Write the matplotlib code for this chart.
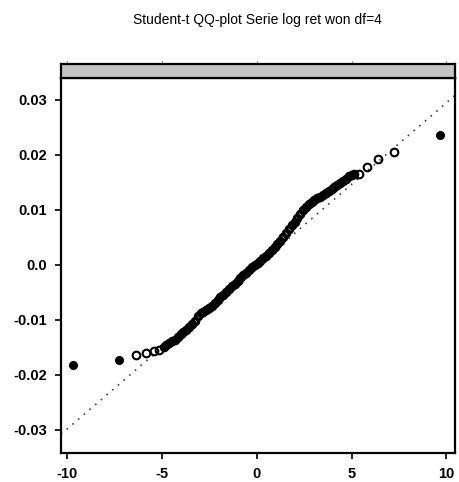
import matplotlib
matplotlib.use("Agg")
import matplotlib.pyplot as plt

plt.rcParams['font.family'] = ['Liberation Sans', 'DejaVu Sans']

title = "Student-t QQ-plot Serie log ret won df=4"

# theoretical t(4) quantiles (x) vs sample quantiles (y)
x_dense = [-4.90, -4.75, -4.60, -4.45, -4.30, -4.15, -4.00, -3.85, -3.70, -3.55,
           -3.40, -3.25, -3.10, -2.95, -2.80, -2.65, -2.50, -2.35, -2.20, -2.05,
           -1.90, -1.75, -1.60, -1.45, -1.30, -1.15, -1.00, -0.85, -0.70, -0.55,
           -0.40, -0.25, -0.10, 0.05, 0.20, 0.35, 0.50, 0.65, 0.80, 0.95,
           1.10, 1.25, 1.40, 1.55, 1.70, 1.85, 2.00, 2.15, 2.30, 2.45,
           2.60, 2.75, 2.90, 3.05, 3.20, 3.35, 3.50, 3.65, 3.80, 3.95,
           4.10, 4.25, 4.40, 4.55, 4.70, 4.85, 5.00, 5.15]
y_dense = [-0.0149, -0.0146, -0.0142, -0.0139, -0.0136, -0.0131, -0.0126, -0.0122, -0.0118, -0.0113,
           -0.0108, -0.0102, -0.0093, -0.0088, -0.0085, -0.0082, -0.0078, -0.0074, -0.0069, -0.0064,
           -0.0059, -0.0054, -0.0049, -0.0044, -0.0039, -0.0034, -0.0029, -0.0024, -0.0019, -0.0014,
           -0.0009, -0.0004, 0.0000, 0.0004, 0.0008, 0.0012, 0.0017, 0.0022, 0.0027, 0.0032,
           0.0038, 0.0044, 0.0051, 0.0058, 0.0065, 0.0072, 0.0079, 0.0086, 0.0093, 0.0100,
           0.0106, 0.0111, 0.0115, 0.0118, 0.0121, 0.0124, 0.0127, 0.0131, 0.0135, 0.0138,
           0.0141, 0.0145, 0.0149, 0.0153, 0.0157, 0.0161, 0.0163, 0.0165]

x_open = [-6.37, -5.84, -5.42, -5.15, 5.42, 5.80, 6.37, 7.26]
y_open = [-0.0164, -0.0160, -0.0157, -0.0155, 0.0166, 0.0178, 0.0193, 0.0205]

x_filled = [-9.68, -7.26, 9.68]
y_filled = [-0.0182, -0.0172, 0.0236]

# reference line (qqline)
line_intercept = -0.0002
line_slope = 0.00297

xticks = [-10, -5, 0, 5, 10]
xticklabels = ["-10", "-5", "0", "5", "10"]
yticks = [-0.03, -0.02, -0.01, 0.0, 0.01, 0.02, 0.03]
yticklabels = ["-0.03", "-0.02", "-0.01", "0.0", "0.01", "0.02", "0.03"]

W, H = 459, 482
fig = plt.figure(figsize=(W / 100, H / 100), dpi=100)

left, right = 61, 455
top_strip, bot_strip, bottom = 64, 78, 453
ax = fig.add_axes([left / W, (H - bottom) / H, (right - left) / W, (bottom - bot_strip) / H])
sax = fig.add_axes([left / W, (H - bot_strip) / H, (right - left) / W, (bot_strip - top_strip) / H])

ax.set_xlim(-10.3, 10.45)
ax.set_ylim(-0.0342, 0.034)

ax.axline((0, line_intercept), slope=line_slope, color='#444444', lw=1.2,
          linestyle=(0, (1, 3.5)), zorder=1)
# dense central band: thick-edged circles merge into a solid band
ax.plot(x_dense, y_dense, linestyle='none', marker='o', ms=4.5, mfc='none',
        mec='black', mew=2.4, zorder=2)
ax.plot(x_open, y_open, linestyle='none', marker='o', ms=5.5, mfc='none',
        mec='black', mew=1.5, zorder=2)
ax.plot(x_filled, y_filled, linestyle='none', marker='o', ms=5.5, mfc='black',
        mec='black', mew=1.0, zorder=2)

ax.set_xticks(xticks)
ax.set_xticklabels(xticklabels)
ax.set_yticks(yticks)
ax.set_yticklabels(yticklabels)
ax.tick_params(axis='both', direction='out', length=4, width=1.2, pad=6,
               labelsize=10.5)
for lab in ax.get_xticklabels() + ax.get_yticklabels():
    lab.set_fontweight('bold')
for sp in ax.spines.values():
    sp.set_linewidth(1.6)

sax.set_facecolor('#c4c4c4')
sax.set_xlim(ax.get_xlim())
sax.set_yticks([])
sax.set_xticks(xticks)
sax.xaxis.tick_top()
sax.tick_params(axis='x', direction='out', length=2.5, width=0.8, color='#777777',
                labeltop=False, labelbottom=False)
for sp in sax.spines.values():
    sp.set_linewidth(1.6)

fig.text(257 / W, 1 - 20 / H, title, ha='center', va='center', fontsize=10)

fig.savefig("out.png", dpi=100)
